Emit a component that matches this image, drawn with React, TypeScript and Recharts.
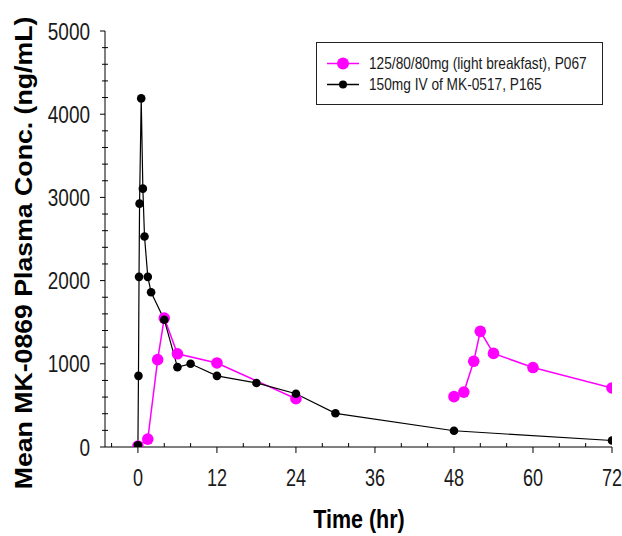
import React from 'react';
import { LineChart, Line, XAxis, YAxis, Legend } from 'recharts';

// oral regimen, day 1 and day 3 profiles (hr, ng/mL)
const oralDay1Hours = [0, 1.5, 3, 4, 6, 12, 24];
const oralDay1Conc = [10, 95, 1050, 1550, 1120, 1010, 580];
const oralDay3Hours = [48, 49.5, 51, 52, 54, 60, 72];
const oralDay3Conc = [605, 660, 1030, 1390, 1125, 955, 710];

// IV profile
const ivHours = [0, 0.083, 0.167, 0.25, 0.5, 0.75, 1, 1.5, 2, 4, 6, 8, 12, 18, 24, 30, 48, 72];
const ivConc = [20, 855, 2045, 2925, 4190, 3105, 2530, 2045, 1860, 1530, 960, 1000, 855, 770, 640, 405, 195, 78];

const xMajorTicks = [0, 12, 24, 36, 48, 60, 72];
const xMinorTicks = [-4, 4, 8, 16, 20, 28, 32, 40, 44, 52, 56, 64, 68];
const yMajorTicks = [0, 1000, 2000, 3000, 4000, 5000];
const yMinorTicks = [
  200, 400, 600, 800, 1200, 1400, 1600, 1800, 2200, 2400, 2600, 2800,
  3200, 3400, 3600, 3800, 4200, 4400, 4600, 4800,
];

const legendItems = [
  { label: '125/80/80mg (light breakfast), P067', color: '#ff00ff', r: 6 },
  { label: '150mg IV of MK-0517, P165', color: '#000000', r: 4 },
];

const FONT = '"Liberation Sans", Arial, sans-serif';
const TEXT = '#1a1a1a';

const toRows = (hours: number[], conc: number[]) =>
  hours.map((h, i) => ({ hours: h, conc: conc[i] }));

const oralDay1 = toRows(oralDay1Hours, oralDay1Conc);
const oralDay3 = toRows(oralDay3Hours, oralDay3Conc);
const ivData = toRows(ivHours, ivConc);

const allXTicks = [...xMinorTicks, ...xMajorTicks].sort((a, b) => a - b);
const allYTicks = [...yMinorTicks, ...yMajorTicks].sort((a, b) => a - b);

// the source image is a bit stretched vertically, so text is scaled to match
const BottomTick = ({ x, y, payload }: any) => {
  const major = xMajorTicks.includes(payload.value);
  return (
    <g>
      <line x1={x} x2={x} y1={y} y2={major ? y + 6 : y - 4} stroke="#000" />
      {major && (
        <text
          transform={`translate(${x}, ${y + 39}) scale(0.95, 1.3)`}
          textAnchor="middle"
          fontSize={19}
          fontFamily={FONT}
          fill={TEXT}
        >
          {payload.value}
        </text>
      )}
    </g>
  );
};

const TopTick = ({ x, y }: any) => <line x1={x} x2={x} y1={y} y2={y + 4} stroke="#000" />;

const LeftTick = ({ x, y, payload }: any) => {
  const major = yMajorTicks.includes(payload.value);
  return (
    <g>
      <line x1={major ? x - 5 : x - 3} x2={major ? x : x + 3} y1={y} y2={y} stroke="#000" />
      {major && (
        <text
          transform={`translate(${x - 15}, ${y + 8.5}) scale(1, 1.3)`}
          textAnchor="end"
          fontSize={19}
          fontFamily={FONT}
          fill={TEXT}
        >
          {payload.value}
        </text>
      )}
    </g>
  );
};

const YTitle = () => (
  <text
    transform="translate(32, 253) rotate(-90) scale(1.16, 1)"
    textAnchor="middle"
    fontSize={23}
    fontWeight="bold"
    fontFamily={FONT}
    fill="#000"
  >
    Mean MK-0869 Plasma Conc. (ng/mL)
  </text>
);

const XTitle = () => (
  <text
    transform="translate(359, 528) scale(1, 1.17)"
    textAnchor="middle"
    fontSize={21.5}
    fontWeight="bold"
    fontFamily={FONT}
    fill="#000"
  >
    Time (hr)
  </text>
);

const LegendBox = () => (
  <div
    style={{
      width: 285,
      height: 61,
      border: '1px solid #222',
      background: '#fff',
      fontFamily: FONT,
      fontSize: 13.7,
      color: TEXT,
    }}
  >
    {legendItems.map((item, i) => (
      <div key={i} style={{ display: 'flex', alignItems: 'center', height: 21, marginTop: i === 0 ? 10 : 0 }}>
        <svg width={52} height={21} style={{ display: 'block' }}>
          <line x1={10} x2={42} y1={10.5} y2={10.5} stroke={item.color} strokeWidth={1.5} />
          <circle cx={26} cy={10.5} r={item.r} fill={item.color} />
        </svg>
        <span style={{ whiteSpace: 'nowrap', display: 'inline-block', transform: 'scaleY(1.15)' }}>
          {item.label}
        </span>
      </div>
    ))}
  </div>
);

const PkChart: React.FC = () => (
  <LineChart width={622} height={536} margin={{ top: 31, right: 10, bottom: 0, left: 0 }}>
    <XAxis
      dataKey="hours"
      type="number"
      domain={[-5, 72]}
      allowDataOverflow
      ticks={allXTicks}
      interval={0}
      height={89}
      tickSize={0}
      tickMargin={0}
      tickLine={false}
      axisLine={{ stroke: '#000' }}
      tick={<BottomTick />}
      label={<XTitle />}
    />
    <XAxis
      xAxisId="top"
      orientation="top"
      type="number"
      domain={[-5, 72]}
      allowDataOverflow
      ticks={xMinorTicks}
      interval={0}
      height={0}
      tickSize={0}
      tickMargin={0}
      tickLine={false}
      axisLine={{ stroke: '#000' }}
      tick={<TopTick />}
    />
    <YAxis
      type="number"
      domain={[0, 5000]}
      allowDataOverflow
      ticks={allYTicks}
      interval={0}
      width={105}
      tickSize={0}
      tickMargin={0}
      tickLine={false}
      axisLine={{ stroke: '#000' }}
      tick={<LeftTick />}
      label={<YTitle />}
    />
    <YAxis
      yAxisId="right"
      orientation="right"
      type="number"
      domain={[0, 5000]}
      width={0}
      tick={false}
      tickLine={false}
      axisLine={{ stroke: '#000' }}
    />
    <Legend
      layout="vertical"
      align="center"
      verticalAlign="middle"
      content={<LegendBox />}
      wrapperStyle={{ position: 'absolute', left: 316, top: 42, width: 287, height: 63 }}
    />
    <Line
      data={oralDay1}
      dataKey="conc"
      type="linear"
      stroke="#ff00ff"
      strokeWidth={1.5}
      dot={{ r: 5.8, fill: '#ff00ff', stroke: '#ff00ff', strokeWidth: 0 }}
      isAnimationActive={false}
    />
    <Line
      data={oralDay3}
      dataKey="conc"
      type="linear"
      stroke="#ff00ff"
      strokeWidth={1.5}
      dot={{ r: 5.8, fill: '#ff00ff', stroke: '#ff00ff', strokeWidth: 0 }}
      isAnimationActive={false}
    />
    <Line
      data={ivData}
      dataKey="conc"
      type="linear"
      stroke="#000"
      strokeWidth={1.2}
      dot={{ r: 4.3, fill: '#000', stroke: '#000', strokeWidth: 0 }}
      isAnimationActive={false}
    />
  </LineChart>
);

export default function App() {
  return (
    <div style={{ position: 'absolute', left: 0, top: 0, width: 622, height: 536, background: '#fff' }}>
      <PkChart />
    </div>
  );
}
